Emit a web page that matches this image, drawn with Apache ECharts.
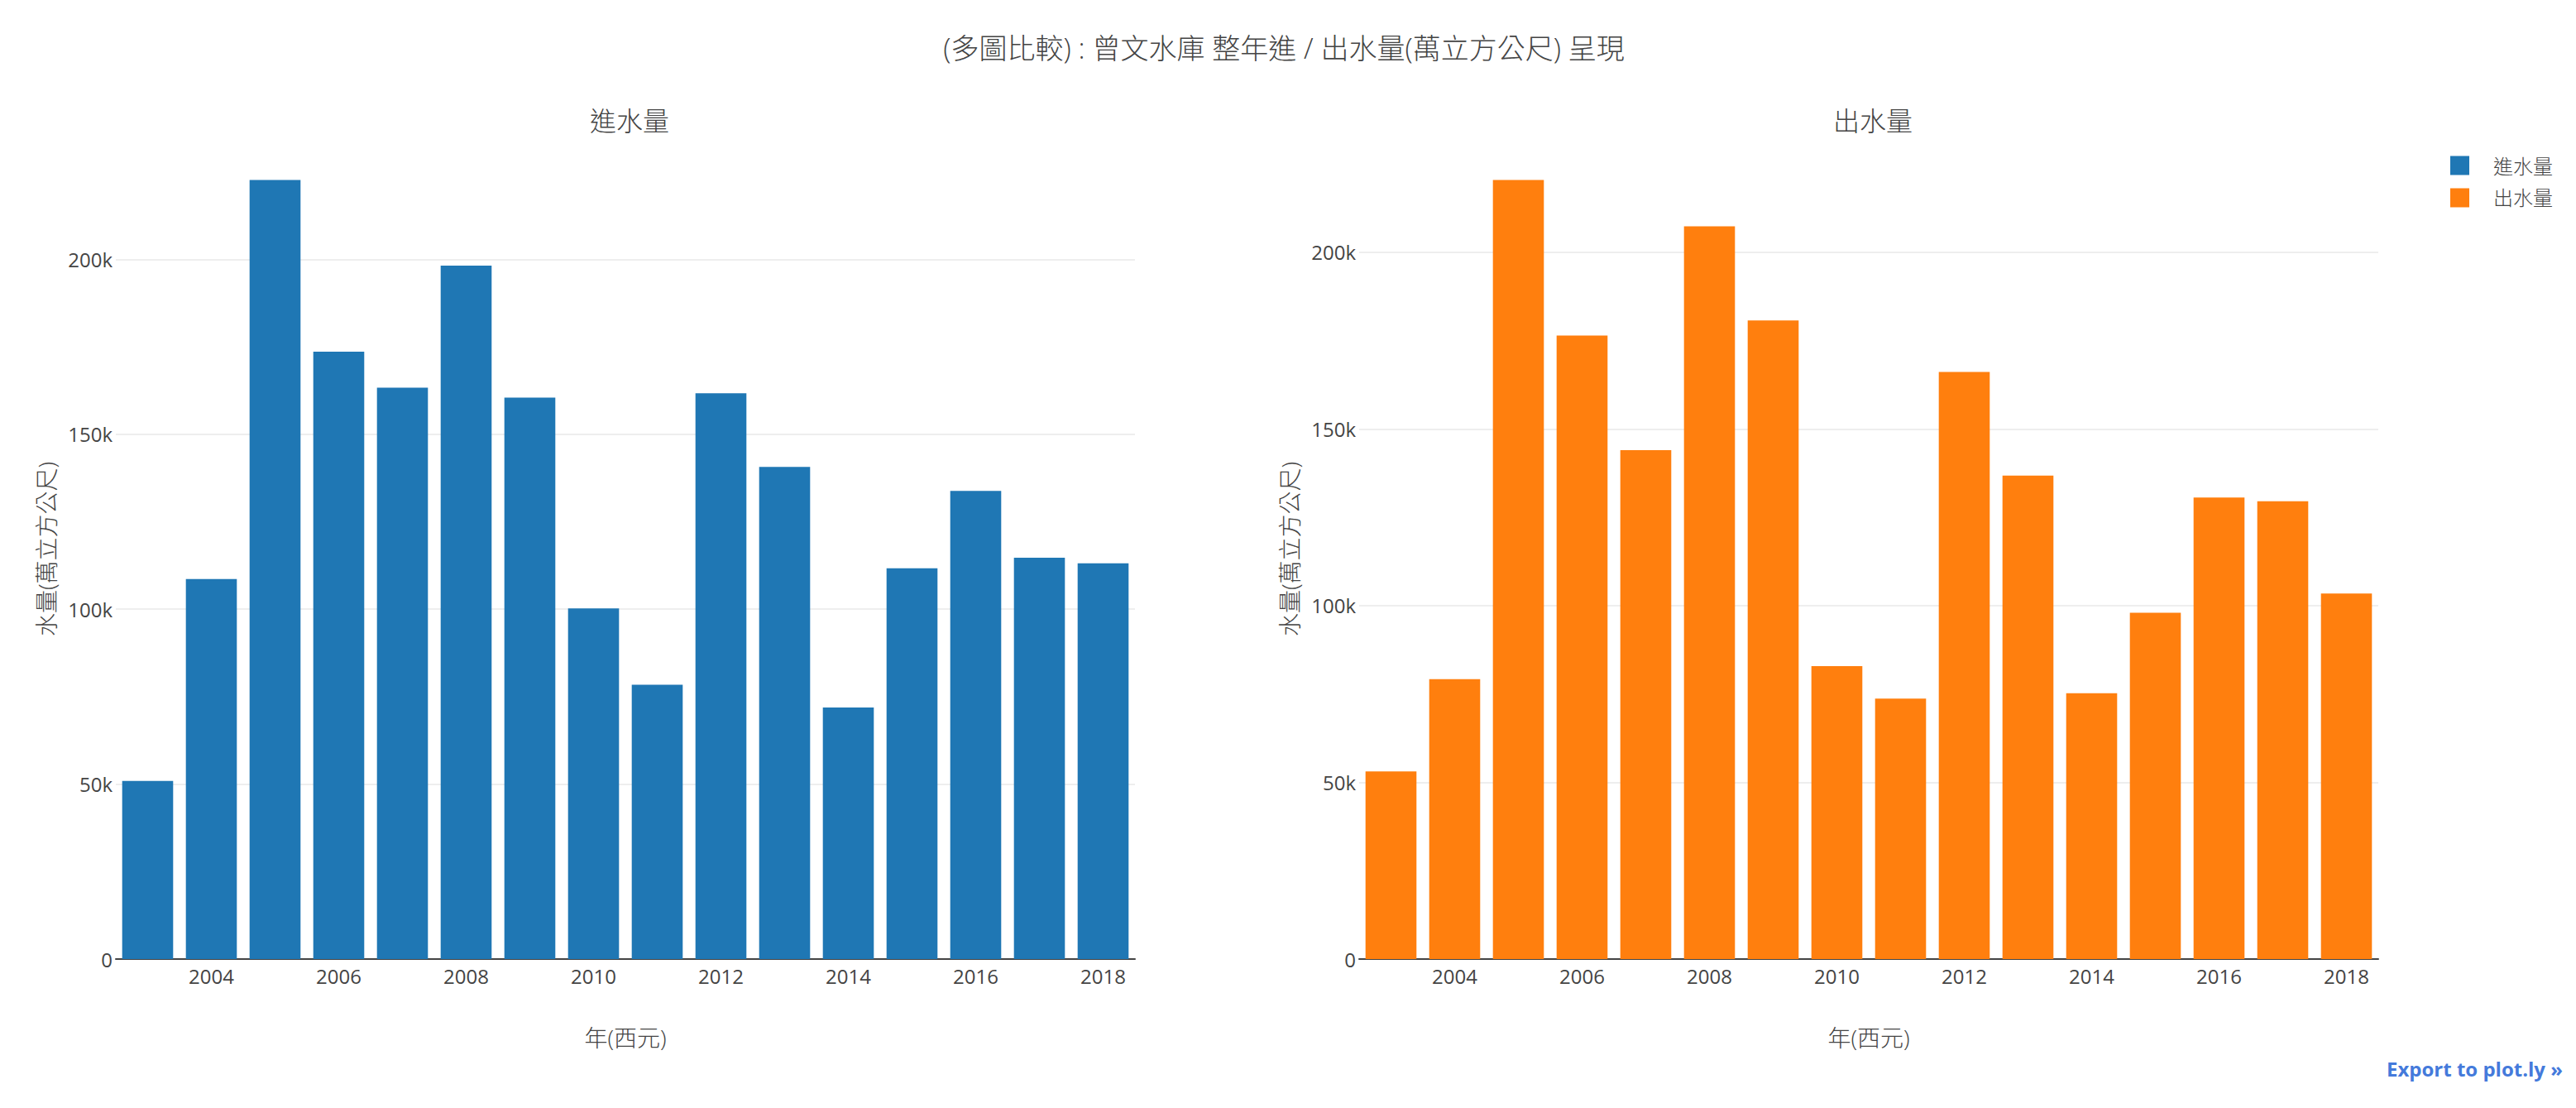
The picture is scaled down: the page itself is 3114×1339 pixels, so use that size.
<!DOCTYPE html>
<html>
<head>
<meta charset="utf-8">
<script src="https://cdn.jsdelivr.net/npm/echarts@6/dist/echarts.min.js"></script>
<style>
html,body{margin:0;padding:0;background:#fff;}
#chart{width:3114px;height:1339px;}
</style>
</head>
<body>
<div id="chart"></div>
<script>
// ---- data ----
const years = ['2003','2004','2005','2006','2007','2008','2009','2010','2011','2012','2013','2014','2015','2016','2017','2018'];
const inflow = [50900, 108600, 222700, 173600, 163300, 198200, 160500, 100200, 78400, 161700, 140700, 71900, 111700, 133800, 114700, 113100];
const outflow = [53100, 79200, 220400, 176400, 144000, 207300, 180700, 82900, 73700, 166100, 136800, 75200, 98000, 130600, 129500, 103400];
const seriesNames = ['進水量', '出水量'];
const mainTitle = '(多圖比較) : 曾文水庫 整年進 / 出水量(萬立方公尺) 呈現';
const xTitle = '年(西元)';
const yTitle = '水量(萬立方公尺)';
const yTickStep = 50000;
const exportText = 'Export to plot.ly »';

const FONT = '"Open Sans", "Noto Sans CJK TC", sans-serif';
const TXT = '#444';
const colors = ['#1f77b4', '#ff7f0e'];

const chart = echarts.init(document.getElementById('chart'), null, {renderer: 'svg'});

const gridTop = 168, gridH = 991, gridW = 1232;
const gridLefts = [140, 1643];
const yMax = [234400, 232000];

function yAxisCfg(i) {
  return {
    type: 'value', gridIndex: i, min: 0, max: yMax[i], interval: yTickStep,
    axisLine: {show: false}, axisTick: {show: false},
    splitLine: {show: true, showMaxLine: false, lineStyle: {color: '#eee', width: 2}},
    axisLabel: {
      color: TXT, fontFamily: FONT, fontSize: 24, margin: 4,
      formatter: v => (v % yTickStep !== 0 ? '' : (v === 0 ? '0' : (v / 1000) + 'k'))
    },
    name: yTitle, nameLocation: 'middle', nameGap: 70, nameRotate: 90,
    nameTextStyle: {color: TXT, fontFamily: FONT, fontSize: 28, fontWeight: 300}
  };
}
function xAxisCfg(i) {
  return {
    type: 'category', gridIndex: i, data: years,
    axisLine: {show: true, onZero: true, lineStyle: {color: TXT, width: 2}},
    axisTick: {show: false},
    axisLabel: {
      color: TXT, fontFamily: FONT, fontSize: 24, margin: 8,
      interval: (idx, val) => Number(val) % 2 === 0
    },
    name: xTitle, nameLocation: 'middle', nameGap: 81,
    nameTextStyle: {color: TXT, fontFamily: FONT, fontSize: 28, fontWeight: 300}
  };
}

const option = {
  backgroundColor: '#fff',
  animation: false,
  color: colors,
  title: [
    {text: mainTitle, left: 1547, top: 36, textAlign: 'center',
     textStyle: {color: TXT, fontFamily: FONT, fontSize: 34, fontWeight: 300}},
    {text: seriesNames[0], left: gridLefts[0] + gridW / 2, top: 124, textAlign: 'center',
     textStyle: {color: TXT, fontFamily: FONT, fontSize: 32, fontWeight: 300}},
    {text: seriesNames[1], left: gridLefts[1] + gridW / 2, top: 124, textAlign: 'center',
     textStyle: {color: TXT, fontFamily: FONT, fontSize: 32, fontWeight: 300}}
  ],
  legend: {
    orient: 'vertical', left: 2957, top: 183,
    itemWidth: 23, itemHeight: 23, itemGap: 15, icon: 'rect',
    data: seriesNames,
    textStyle: {color: TXT, fontFamily: FONT, fontSize: 24, fontWeight: 300, padding: [0, 0, 0, 24]}
  },
  grid: gridLefts.map(l => ({left: l, top: gridTop, width: gridW, height: gridH, containLabel: false})),
  xAxis: [xAxisCfg(0), xAxisCfg(1)],
  yAxis: [yAxisCfg(0), yAxisCfg(1)],
  series: [
    {name: seriesNames[0], type: 'bar', xAxisIndex: 0, yAxisIndex: 0, data: inflow,
     barCategoryGap: '20%', itemStyle: {color: colors[0]}},
    {name: seriesNames[1], type: 'bar', xAxisIndex: 1, yAxisIndex: 1, data: outflow,
     barCategoryGap: '20%', itemStyle: {color: colors[1]}}
  ],
  graphic: [
    {type: 'text', right: 16, top: 1279,
     style: {text: exportText, fill: '#447adb', font: 'bold 24px "Open Sans", sans-serif'}}
  ]
};
chart.setOption(option);
</script>
</body>
</html>
